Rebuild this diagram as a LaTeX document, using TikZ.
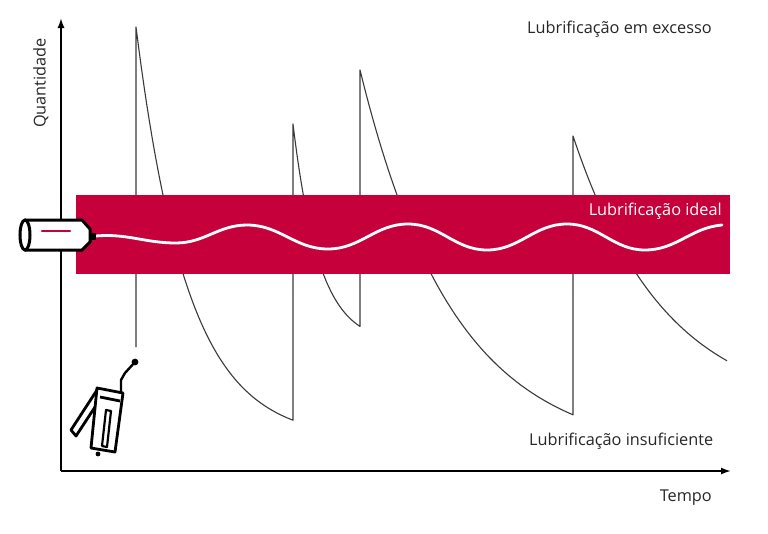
\documentclass[tikz,border=0pt]{standalone}
\usepackage{fontspec}
\setmainfont{Open Sans}
\usetikzlibrary{arrows.meta}
\definecolor{bandred}{HTML}{C6003A}
\definecolor{curvegrey}{HTML}{3A3A3A}
\begin{document}
\begin{tikzpicture}[x=1pt,y=-1pt,
    lbl/.style={font=\fontsize{16.3}{19}\selectfont, text=black!85, inner sep=0pt},
    decay/.style={curvegrey, line width=1.1pt, line join=round},
    axis/.style={line width=1.7pt, -{Latex[length=10pt,width=7pt]}},
    gun/.style={line width=2.8pt, line join=round}]
  \useasboundingbox (0,0) rectangle (768,533);
  \draw[decay] (136,347) -- (136,27)
    -- plot[domain=136:293, samples=60] (\x, {440-413*exp(-(\x-136)/51.7)}) -- (293,124)
    -- plot[domain=293:360, samples=40] (\x, {344-220*exp(-(\x-293)/26.5)}) -- (360,70)
    -- plot[domain=360:573, samples=70] (\x, {455-385*exp(-(\x-360)/94.3)}) -- (573,136)
    -- plot[domain=573:727, samples=60] (\x, {413-277*exp(-(\x-573)/92.3)});
  \fill[bandred] (76,195) rectangle (730,274);
  \draw[white, line width=2.8pt, line cap=round] (96,236) to[out=5,in=180] (176,243)
    to[out=0,in=180] (247,225) to[out=0,in=180] (328,249) to[out=0,in=180] (408,224)
    to[out=0,in=180] (487,250) to[out=0,in=180] (567,224) to[out=0,in=180] (645,250)
    to[out=0,in=185] (722,225);
  \coordinate (origin) at (61,471);
  \coordinate (ytip) at (61,18);
  \coordinate (xtip) at (731,471);
  \draw[axis] (origin) -- (ytip);
  \draw[axis] (origin) -- (xtip);
  \draw[line width=3pt, line join=round, fill=white] (25,220) -- (82,220) -- (90,229)
    -- (90,242) -- (82,250) -- (25,250);
  \draw[line width=3pt, fill=white] (25,235) ellipse (5 and 15);
  \fill (89,233) rectangle (96,240);
  \draw[bandred, line width=2.5pt, line cap=round] (42,231) -- (70,231);
  \draw[gun] (97,388) -- (123,393) -- (115,452) -- (91,448) -- cycle;
  \draw[gun] (100,397) -- (120,401);
  \draw[line width=2.2pt, line join=round] (106,410) -- (111,411) -- (107,447) -- (102,446) -- cycle;
  \draw[gun] (97,390) -- (71,430) -- (76,436) -- (95,407);
  \fill (98,454) circle (2.4);
  \draw[line width=2.4pt, line join=round] (121,392) -- (121,380) -- (125,373) -- (135,362);
  \fill (135,362) circle (3.4);
  \node[lbl, anchor=base west] (excess) at (527,33) {Lubrificação em excesso};
  \node[lbl, anchor=base east, text=white] (ideal) at (722,215) {Lubrificação ideal};
  \node[lbl, anchor=base west] (lack) at (529,445.5) {Lubrificação insuficiente};
  \node[lbl, anchor=base east] (time) at (712,501.5) {Tempo};
  \node[lbl, anchor=base, rotate=90] (qty) at (45.5,83) {Quantidade};
\end{tikzpicture}
\end{document}
